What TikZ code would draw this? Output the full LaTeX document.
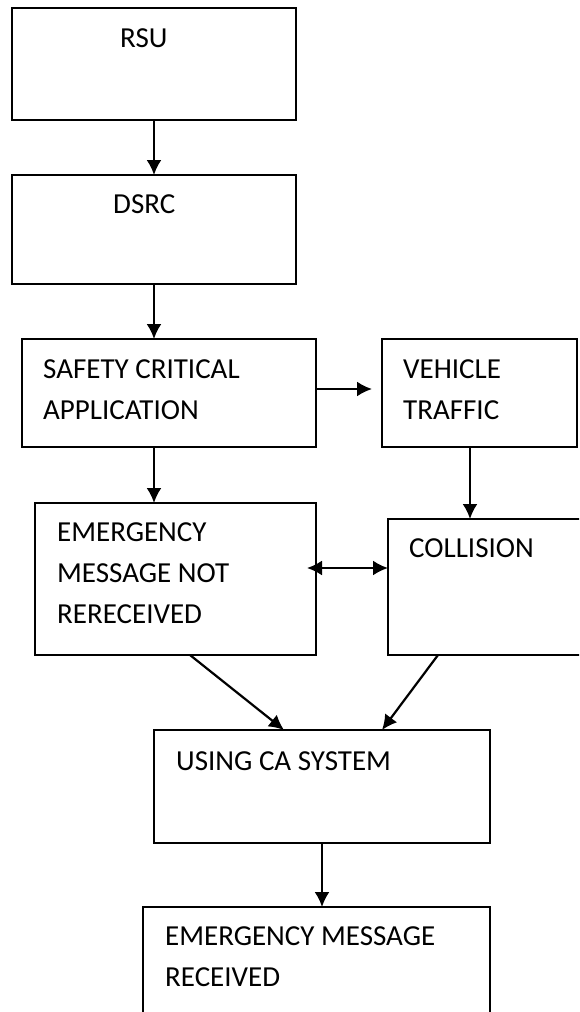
\documentclass[tikz,border=0pt]{standalone}
\usepackage{fontspec}
\setmainfont{Carlito}
\usetikzlibrary{arrows.meta}
\begin{document}
\begin{tikzpicture}[x=1pt,y=-1pt,
  box/.style={draw=black,line width=1.7pt,rectangle,inner sep=0pt,outer sep=0pt,anchor=north west},
  txt/.style={anchor=base west,inner sep=0pt,align=left,font=\fontsize{29}{41}\selectfont},
  arr/.style={line width=2.2pt,-{Latex[length=15pt,width=15pt]}},
  darr/.style={line width=2.2pt,{Latex[length=15pt,width=15pt]}-{Latex[length=15pt,width=15pt]}}]
\fill[white] (0,0) rectangle (579,1012);
\useasboundingbox (0,0) rectangle (579,1012);
\clip (0,0) rectangle (579,1012);
% boxes
\node[box,minimum width=284pt,minimum height=112pt] (rsu) at (12,8) {};
\node[box,minimum width=284pt,minimum height=109pt] (dsrc) at (12,175) {};
\node[box,minimum width=294pt,minimum height=108pt] (sca) at (22,339) {};
\node[box,minimum width=195pt,minimum height=108pt] (vt) at (382,339) {};
\node[box,minimum width=281pt,minimum height=152pt] (emnr) at (35,503) {};
\node[box,minimum width=230pt,minimum height=136pt] (col) at (388,519) {};
\node[box,minimum width=336pt,minimum height=113pt] (ca) at (154,730) {};
\node[box,minimum width=347pt,minimum height=130pt] (emr) at (143,907) {};
% texts (anchored at the baseline of the last line)
\node[txt] (trsu) at (120,47) {RSU};
\node[txt] (tdsrc) at (113,213) {DSRC};
\node[txt] (tsca) at (43,419) {SAFETY CRITICAL\\APPLICATION};
\node[txt] (tvt) at (403,419) {VEHICLE\\TRAFFIC};
\node[txt] (temnr) at (57,623) {EMERGENCY\\MESSAGE NOT\\RERECEIVED};
\node[txt] (tcol) at (409,557) {COLLISION};
\node[txt] (tca) at (176,770) {USING CA SYSTEM};
\node[txt] (temr) at (165,986) {EMERGENCY MESSAGE\\RECEIVED};
% connectors
\draw[arr] (rsu.south) -- (dsrc.north);
\draw[arr] (dsrc.south) -- (dsrc.south |- sca.north);
\draw[arr] (sca.south -| dsrc.south) -- (emnr.north -| dsrc.south);
\draw[arr,shorten >=10pt] ([yshift=4pt]sca.east) -- ([yshift=4pt]sca.east -| vt.west);
\draw[arr] ([xshift=-9.5pt]vt.south) -- ([xshift=-9.5pt]vt.south |- col.north);
\draw[darr,shorten <=-9pt] ([yshift=11pt]emnr.east) -- ([yshift=11pt]emnr.east -| col.west);
\draw[arr] ([xshift=155pt]emnr.south west) -- ([xshift=130pt]ca.north west);
\draw[arr] ([xshift=50pt]col.south west) -- ([xshift=228pt]ca.north west);
\draw[arr] (ca.south) -- (ca.south |- emr.north);
\end{tikzpicture}
\end{document}
